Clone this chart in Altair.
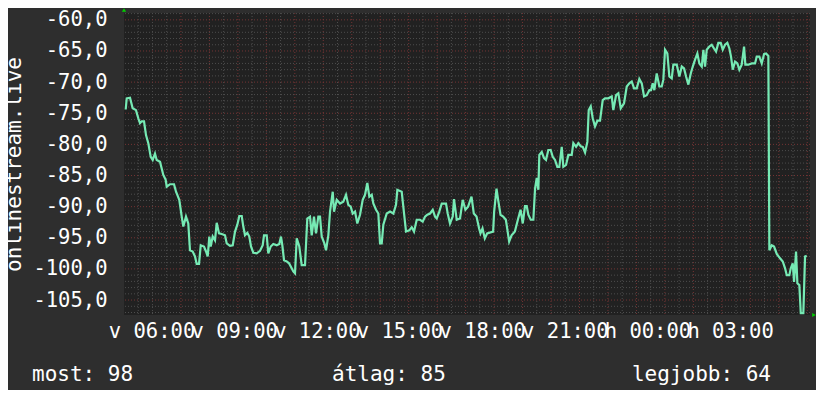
import altair as alt
import pandas as pd

# ---- data (minutes since Sunday 05:00, signal value) ----
minutes = [3.7, 5.9, 13.1, 18.9, 26.1, 31.1, 34.8, 38.6, 43.6, 47.9, 52.9, 58.2, 62.5, 67.5, 71.2, 78.4,
           85.6, 90.8, 93.0, 100.2, 108.9, 113.3, 120.4, 125.7, 129.2, 135.0, 140.0, 143.7, 149.6, 154.6,
           158.3, 163.4, 167.1, 174.2, 178.6, 182.3, 185.8, 188.8, 193.2, 198.2, 201.9, 206.9, 212.8,
           220.0, 223.7, 230.9, 236.8, 241.8, 246.8, 251.1, 256.4, 259.8, 263.5, 268.6, 272.9, 276.6,
           281.6, 289.0, 296.2, 302.1, 304.9, 310.8, 314.3, 319.5, 325.2, 332.6, 338.2, 341.9, 344.8,
           348.5, 354.4, 359.4, 365.2, 368.7, 372.4, 376.2, 381.8, 387.0, 394.2, 399.2, 405.1, 408.8,
           413.8, 418.2, 423.2, 426.9, 430.6, 436.3, 440.0, 445.0, 448.7, 454.6, 457.4, 463.3, 470.4,
           477.6, 483.5, 488.5, 493.7, 498.1, 503.1, 508.1, 514.0, 519.9, 524.9, 529.9, 534.3, 539.5,
           543.0, 548.9, 553.9, 557.6, 561.3, 564.8, 572.2, 579.4, 586.6, 592.4, 595.3, 604.8, 608.3,
           614.2, 621.4, 626.6, 631.6, 637.5, 644.7, 650.6, 655.6, 660.6, 666.5, 672.4, 677.4, 681.1,
           686.7, 692.0, 701.3, 705.0, 710.0, 715.9, 718.7, 724.6, 731.8, 737.7, 743.5, 749.4, 756.8,
           761.8, 767.7, 773.4, 776.4, 780.8, 785.8, 790.8, 803.9, 806.1, 811.3, 814.8, 820.0, 825.7,
           831.6, 834.5, 838.8, 844.1, 851.3, 858.5, 863.7, 868.4, 873.3, 877.1, 880.6, 885.8, 891.5,
           895.2, 898.9, 902.4, 904.5, 909.8, 914.8, 919.1, 924.1, 929.3, 933.7, 938.7, 943.7, 948.1,
           953.3, 956.8, 962.7, 967.7, 975.1, 978.6, 984.5, 989.5, 994.7, 999.1, 1004.1, 1009.1,
           1012.1, 1016.5, 1020.8, 1025.8, 1030.9, 1036.7, 1042.6, 1047.6, 1054.8, 1062.2, 1065.7,
           1071.6, 1076.6, 1081.8, 1089.0, 1094.9, 1100.6, 1105.8, 1110.8, 1116.7, 1122.3, 1127.6,
           1132.6, 1138.4, 1144.1, 1147.8, 1151.5, 1155.0, 1160.2, 1165.9, 1171.1, 1174.6, 1178.3,
           1183.3, 1187.7, 1192.9, 1196.4, 1203.8, 1209.5, 1214.7, 1219.7, 1224.1, 1229.1, 1234.3,
           1238.7, 1243.7, 1248.7, 1253.1, 1258.3, 1261.8, 1265.4, 1269.1, 1274.8, 1280.0, 1285.0,
           1289.4, 1294.4, 1299.6, 1304.0, 1309.0, 1314.0, 1318.4, 1322.0, 1325.8, 1330.8, 1335.8,
           1340.1, 1345.3, 1350.4, 1353.2, 1359.7, 1367.1, 1374.3, 1378.0, 1383.7, 1388.9, 1393.9,
           1398.3, 1403.3, 1405.5, 1410.7, 1415.7, 1421.6, 1428.8, 1434.7, 1439.7, 1443.4, 1449.0,
           1452.1, 1456.4, 1459.3, 1463.6, 1466.5, 1470.8, 1473.9, 1479.5, 1483.2, 1486.9]
values = [-74.4, -72.6, -72.5, -74.2, -74.5, -75.8, -76.6, -76.3, -76.3, -78.5, -79.8, -82.0, -82.5, -81.5,
          -82.5, -82.8, -84.9, -85.7, -86.8, -86.4, -86.4, -87.6, -88.9, -91.6, -93.2, -91.6, -92.7,
          -97.0, -97.2, -98.0, -99.2, -99.2, -96.2, -96.4, -97.2, -98.0, -94.8, -96.4, -94.8, -95.4,
          -92.6, -94.3, -94.4, -94.6, -95.9, -96.3, -96.2, -94.0, -92.9, -91.5, -91.5, -93.2, -94.6,
          -94.2, -94.8, -96.4, -97.4, -97.5, -97.1, -96.2, -94.6, -94.6, -97.5, -96.4, -96.0, -96.2,
          -96.0, -94.8, -96.2, -98.6, -98.8, -99.1, -99.9, -100.4, -100.7, -95.1, -96.4, -99.4, -99.4,
          -91.9, -91.6, -94.6, -91.6, -94.3, -91.6, -91.6, -94.8, -95.9, -97.0, -94.6, -90.8, -87.6,
          -90.8, -88.9, -89.5, -89.2, -88.1, -89.7, -90.0, -91.1, -90.8, -92.7, -91.3, -88.9, -88.1,
          -86.2, -88.4, -88.1, -89.5, -90.5, -91.1, -95.9, -95.9, -92.9, -91.1, -90.8, -91.1, -89.7,
          -87.3, -87.6, -90.0, -94.0, -93.8, -93.3, -94.0, -92.1, -92.1, -92.4, -91.6, -91.3, -91.1,
          -90.5, -91.6, -91.9, -90.8, -89.5, -89.5, -91.1, -92.7, -91.6, -88.8, -92.1, -91.9, -88.9,
          -90.5, -90.0, -88.4, -91.1, -91.6, -93.5, -94.3, -93.5, -95.1, -94.3, -94.0, -90.8, -87.1,
          -88.9, -91.3, -91.6, -92.1, -93.5, -95.6, -94.6, -94.0, -91.9, -90.5, -92.7, -89.9, -89.9,
          -91.3, -92.1, -92.1, -87.1, -85.4, -87.3, -81.7, -81.2, -82.2, -82.5, -80.9, -80.9, -82.0,
          -82.5, -83.6, -83.6, -80.4, -83.6, -83.3, -81.7, -81.7, -79.8, -80.4, -79.8, -80.3, -80.4,
          -81.3, -79.6, -74.5, -73.9, -75.8, -77.1, -76.2, -76.2, -72.9, -72.6, -72.6, -72.3, -74.5,
          -72.1, -71.8, -74.2, -73.4, -70.7, -70.2, -69.9, -71.0, -71.0, -69.5, -70.2, -72.3, -72.1,
          -71.3, -71.3, -70.2, -71.3, -68.6, -70.7, -70.7, -69.6, -64.8, -65.4, -69.1, -69.4, -67.2,
          -67.2, -69.1, -67.5, -67.8, -69.1, -70.4, -68.6, -67.5, -66.4, -65.4, -67.0, -67.5, -64.8,
          -67.5, -64.8, -64.3, -64.0, -64.6, -65.1, -63.7, -63.7, -64.8, -64.0, -63.7, -64.6, -65.9,
          -68.0, -66.7, -67.0, -68.0, -67.2, -64.3, -67.2, -67.2, -67.0, -67.0, -65.9, -65.9, -67.0,
          -65.5, -65.4, -65.8, -97.0, -96.2, -96.4, -97.6, -98.3, -98.8, -99.9, -101.0, -101.0, -99.9,
          -99.1, -102.1, -97.2, -102.3, -102.6, -107.1, -107.1, -98.0, -97.9]

y_tick_values = [-60, -65, -70, -75, -80, -85, -90, -95, -100, -105]
x_tick_minutes = [60, 240, 420, 600, 780, 960, 1140, 1320]
x_tick_labels = ["v 06:00", "v 09:00", "v 12:00", "v 15:00", "v 18:00", "v 21:00", "h 00:00", "h 03:00"]
y_title = "onlinestream.live"
summary_labels = ["most: 98", "átlag: 85", "legjobb: 64"]

# ---- styling / layout ----
X_DOMAIN = [0, 1494]
Y_DOMAIN = [-107.4, -58.9]
FONT = "DejaVu Sans Mono"
FS = 20.5
BG = "#2e2e2e"
PLOT_BG = "#212121"
LINE = "#76eab4"
MINOR = "#4d4d4d"
MAJOR = "#743434"
ARROW = "#00d000"

df = pd.DataFrame({"m": minutes, "v": values})

xs = alt.Scale(domain=X_DOMAIN, nice=False, zero=False)
ys = alt.Scale(domain=Y_DOMAIN, nice=False, zero=False)

expr = "''"
for val, lab in reversed(list(zip(x_tick_minutes, x_tick_labels))):
    expr = f"datum.value == {val} ? '{lab}' : ({expr})"

x_axis = alt.Axis(
    values=x_tick_minutes, labelExpr=expr, title=None, grid=False, ticks=False, tickSize=0,
    domain=False, labelFont=FONT, labelFontSize=FS, labelColor="#ffffff",
    labelPadding=22, labelBaseline="alphabetic", labelOverlap=False, labelFlush=False,
    labelBound=False)
y_axis = alt.Axis(
    values=y_tick_values,
    labelExpr="'-' + replace(format(abs(datum.value), '.1f'), '.', ',')",
    title=y_title, titleFont=FONT, titleFontSize=21, titleFontWeight="normal",
    titleColor="#ffffff", titleAngle=270, titleX=-104, titleY=151, titleAlign="center",
    titleBaseline="alphabetic",
    grid=False, ticks=False, tickSize=0, domain=False, labelFont=FONT, labelFontSize=FS,
    labelColor="#ffffff", labelPadding=17, labelBaseline="middle", labelOverlap=False,
    labelFlush=False, labelBound=False)

# grid positions
hgrid = pd.DataFrame({"v": list(range(-107, -58))})
hgrid["major"] = hgrid["v"] % 5 == 0
vstep = 31.0
vgrid = pd.DataFrame({"j": list(range(1, 49))})
vgrid["m"] = vgrid["j"] * vstep
vgrid["major"] = (vgrid["j"] >= 4) & (vgrid["j"] % 2 == 0)

def hrule(major):
    d = hgrid[hgrid["major"] == major]
    return alt.Chart(d).mark_rule(
        color=MAJOR if major else MINOR, strokeDash=[1, 2], strokeWidth=1
    ).encode(y=alt.Y("v:Q", scale=ys, axis=y_axis))

def vrule(major):
    d = vgrid[vgrid["major"] == major]
    return alt.Chart(d).mark_rule(
        color=MAJOR if major else MINOR, strokeDash=[1, 2], strokeWidth=1
    ).encode(x=alt.X("m:Q", scale=xs, axis=x_axis))

line = alt.Chart(df).mark_line(color=LINE, strokeWidth=2.2, clip=True).encode(
    x=alt.X("m:Q", scale=xs, axis=x_axis),
    y=alt.Y("v:Q", scale=ys, axis=y_axis),
)

def label(text, x, align):
    return alt.Chart(pd.DataFrame({"t": [text]})).mark_text(
        align=align, baseline="alphabetic", font=FONT, fontSize=21, color="#ffffff"
    ).encode(x=alt.value(x), y=alt.value(368), text="t:N")

def arrow(shape, x, y):
    return alt.Chart(pd.DataFrame({"a": [0]})).mark_point(
        shape=shape, filled=True, size=18, color=ARROW, opacity=1
    ).encode(x=alt.value(x), y=alt.value(y))

chart = alt.layer(
    vrule(False), vrule(True), hrule(False), hrule(True), line,
    label(summary_labels[0], -92, "left"),
    label(summary_labels[1], 208, "left"),
    label(summary_labels[2], 647, "right"),
    arrow("triangle-up", 0, -3),
    arrow("triangle-right", 690, 302),
).properties(
    width=686, height=302,
    autosize=alt.AutoSizeParams(type="none"),
    padding={"left": 116, "top": 5, "right": 6, "bottom": 75},
    background=BG,
).configure_view(fill=PLOT_BG, stroke=None)

chart.save("out.html", embed_options={"renderer": "svg", "actions": False})
